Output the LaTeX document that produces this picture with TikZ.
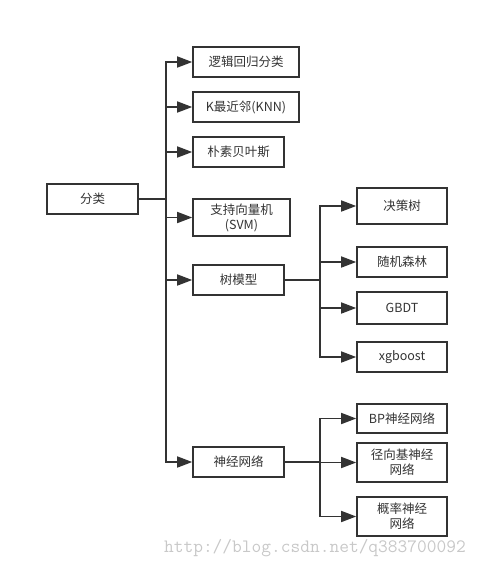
\documentclass[tikz,border=0pt]{standalone}
\usepackage{fontspec}
\setmainfont{Noto Sans CJK SC}
\usepackage{xcolor}
\usetikzlibrary{arrows.meta, positioning}
\definecolor{linegray}{HTML}{333333}
\definecolor{markgray}{HTML}{C8C8C8}
\tikzset{
  box/.style={draw=linegray, line width=1.6pt, minimum height=30pt, inner sep=2pt,
    align=center, text=linegray, font=\fontsize{12.5}{15}\selectfont},
  link/.style={draw=linegray, line width=1.6pt},
  arrowlink/.style={link, -{Triangle[length=15pt,width=11pt]}}
}

\begin{document}
\begin{tikzpicture}[x=1pt, y=-1pt]
\useasboundingbox (0,0) rectangle (479,568);
\begin{scope}[every node/.style={box}]
    \node[minimum width=91pt] (cls) at (92.5,199) {分类};
    \node[minimum width=106pt] (lr) at (246,62) {逻辑回归分类};
    \node[minimum width=106pt] (knn) at (246,107) {K最近邻(KNN)};
    \node[minimum width=91pt] (nb) at (238.5,152) {朴素贝叶斯};
    \node[minimum width=97pt, minimum height=37pt] (svm) at (241.5,217.5) {支持向量机\\(SVM)};
    \node[minimum width=91pt] (tree) at (238.5,280) {树模型};
    \node[minimum width=91pt] (nn) at (238.5,462) {神经网络};
    \node[minimum width=90pt, minimum height=36pt] (dt) at (402,206) {决策树};
    \node[minimum width=90pt] (rf) at (402,262) {随机森林};
    \node[minimum width=90pt, minimum height=32pt] (gbdt) at (402,308) {GBDT};
    \node[minimum width=90pt] (xgb) at (402,357) {xgboost};
    \node[minimum width=90pt, minimum height=29pt] (bp) at (402,418.5) {BP神经网络};
    \node[minimum width=90pt, minimum height=39pt] (rbf) at (402,462.5) {径向基神经\\网络};
    \node[minimum width=90pt, minimum height=39pt] (pnn) at (402,516.5) {概率神经\\网络};
\end{scope}
    \coordinate (trunk) at (166,199);
    \coordinate (treetrunk) at (320,280);
    \coordinate (nntrunk) at (320,462);
% main branches
    \draw[link] (cls.east) -- (trunk);
    \foreach \child in {lr, knn, nb, svm, tree, nn}
      \draw[arrowlink] (trunk) |- (\child.west);
% tree models
    \draw[link] (tree.east) -- (treetrunk);
    \foreach \child in {dt, rf, gbdt, xgb}
      \draw[arrowlink] (treetrunk) |- (\child.west);
% neural networks
    \draw[link] (nn.east) -- (nntrunk);
    \foreach \child in {bp, rbf, pnn}
      \draw[arrowlink] (nntrunk) |- (\child.west);
    \node[anchor=east, text=markgray, font=\ttfamily\fontsize{18.9}{20}\selectfont, inner sep=0pt] (mark) at (466,548) {http://blog.csdn.net/q383700092};
\end{tikzpicture}
\end{document}
